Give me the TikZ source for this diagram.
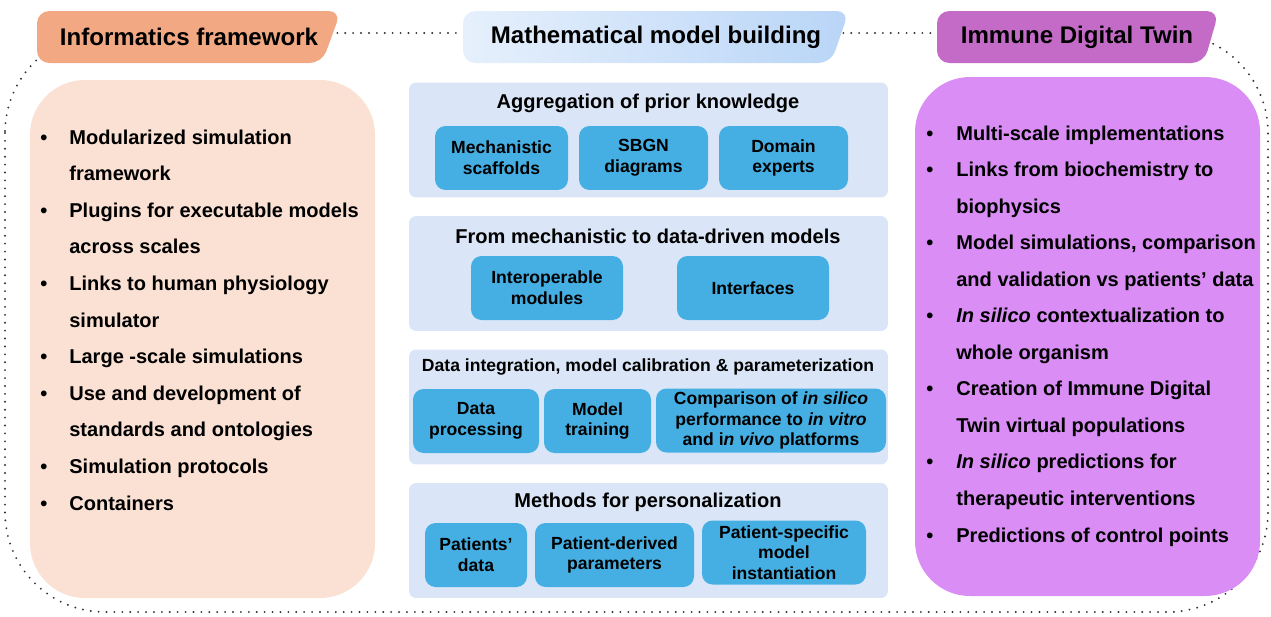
\documentclass[tikz,border=0pt]{standalone}
\usepackage{fontspec}
\setmainfont{Liberation Sans}
\usetikzlibrary{positioning}

\definecolor{infotab}{HTML}{F2A883}
\definecolor{infobody}{HTML}{FAE1D4}
\definecolor{mathtabL}{HTML}{E6F0FC}
\definecolor{mathtabR}{HTML}{B9D5F7}
\definecolor{idttab}{HTML}{C46BC8}
\definecolor{idtbody}{HTML}{D98DF5}
\definecolor{panelbg}{HTML}{DAE6F7}
\definecolor{iboxbg}{HTML}{45AFE3}

\begin{document}
\begin{tikzpicture}[x=0.02cm,y=-0.02cm,
  hdr/.style={font=\bfseries\fontsize{13.7}{16}\selectfont},
  ttl/.style={font=\bfseries\fontsize{11.4}{13}\selectfont},
  bul/.style={font=\bfseries\fontsize{11.4}{13}\selectfont,anchor=base west,inner sep=0pt},
  panel/.style={fill=panelbg,rounded corners=4pt,minimum width=9.58cm,minimum height=2.3cm},
  ibox/.style={fill=iboxbg,rounded corners=6pt,minimum width=#1*0.02cm,minimum height=1.28cm,
    align=center,inner sep=0pt,font=\bfseries\fontsize{10}{11.8}\selectfont},
  dotline/.style={draw=black!80,line width=1.2pt,line cap=round,dash pattern=on 0pt off 4.5pt}]
  \useasboundingbox (0,0) rectangle (1271,616);

  % dotted outline behind everything
  \draw[dotline,rounded corners=2cm] (5,33) rectangle (1268,612);

  % tabs
  \fill[infotab,rounded corners=7pt] (37,11) -- (341,11) -- (322,63) -- (37,63) -- cycle;
  \shade[left color=mathtabL,right color=mathtabR,rounded corners=7pt]
    (463,11) -- (849,11) -- (831,63) -- (463,63) -- cycle;
  \fill[idttab,rounded corners=7pt] (937,11) -- (1219,11) -- (1204,63) -- (937,63) -- cycle;
  \node[hdr] (infhdr) at (189,37) {Informatics framework};
  \node[hdr] (mathhdr) at (656,37) {Mathematical model building};
  \node[hdr] (idthdr) at (1077,37) {Immune Digital Twin};

  % side bodies
  \fill[infobody,rounded corners=1.1cm] (30,80) rectangle (375,598);
  \fill[idtbody,rounded corners=1.1cm] (915,77) rectangle (1260,596);

  % left list
  \foreach \i/\b/\t in {0/1/Modularized simulation, 1/0/framework,
      2/1/Plugins for executable models, 3/0/across scales,
      4/1/Links to human physiology, 5/0/simulator,
      6/1/Large -scale simulations, 7/1/Use and development of,
      8/0/standards and ontologies, 9/1/Simulation protocols, 10/1/Containers}{
    \node[bul] (inf\i) at (69,144+\i*36.6) {\t};
    \ifnum\b=1 \node[bul] (infb\i) at (40,144+\i*36.6) {\textbullet};\fi
  }

  % right list
  \foreach \i/\b/\t in {0/1/Multi-scale implementations, 1/1/Links from biochemistry to,
      2/0/biophysics, 3/1/{Model simulations, comparison},
      4/0/and validation vs patients’ data, 5/1/{\textit{In silico} contextualization to},
      6/0/whole organism, 7/1/Creation of Immune Digital,
      8/0/Twin virtual populations, 9/1/{\textit{In silico} predictions for},
      10/0/therapeutic interventions, 11/1/Predictions of control points}{
    \node[bul] (idt\i) at (956,140+\i*36.55) {\t};
    \ifnum\b=1 \node[bul] (idtb\i) at (926,140+\i*36.55) {\textbullet};\fi
  }

  % middle panels
  \node[panel] (aggp) at (648.5,140) {};
  \node[ttl] (aggt) at (648,103) {Aggregation of prior knowledge};
  \node[ibox=133] (scaf) at (501.5,158) {Mechanistic\\scaffolds};
  \node[ibox=129] (sbgn) at (643.5,158) {SBGN\\diagrams};
  \node[ibox=129] (expt) at (783.5,158) {Domain\\experts};

  \node[panel] (mechp) at (648.5,273.5) {};
  \node[ttl] (mecht) at (648,236) {From mechanistic to data-driven models};
  \node[ibox=152] (modl) at (547,288) {Interoperable\\modules};
  \node[ibox=152] (intf) at (753,288) {Interfaces};

  \node[panel] (calp) at (648.5,407) {};
  \node[ttl,font=\bfseries\fontsize{10}{12}\selectfont] (calt) at (648,367)
    {Data integration, model calibration \& parameterization};
  \node[ibox=126] (dproc) at (476,421) {Data\\processing};
  \node[ibox=107] (mtrain) at (597.5,421) {Model\\training};
  \node[ibox=230] (comp) at (771,420.5)
    {Comparison of \textit{in silico}\\performance to \textit{in vitro}\\and i\textit{n vivo} platforms};

  \node[panel] (persp) at (648.5,540.5) {};
  \node[ttl] (perst) at (648,502) {Methods for personalization};
  \node[ibox=102] (pdata) at (476,555) {Patients’\\data};
  \node[ibox=159] (pder) at (614.5,555) {Patient-derived\\parameters};
  \node[ibox=164] (pspec) at (784,552.5) {Patient-specific\\model\\instantiation};
\end{tikzpicture}
\end{document}
